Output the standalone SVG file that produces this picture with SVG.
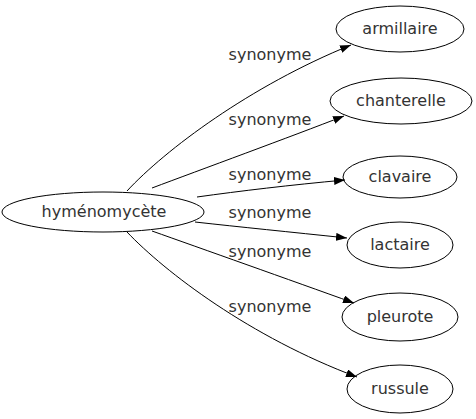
<svg xmlns="http://www.w3.org/2000/svg" width="476" height="419" viewBox="0 0 476 419">
<style>
  .node ellipse { fill: none; stroke: #000; stroke-width: 1; }
  text { font-family: "DejaVu Sans", "Liberation Sans", sans-serif; font-size: 16px; fill: #333; text-anchor: middle; }
  .edge { fill: none; stroke: #000; stroke-width: 1; marker-end: url(#arr); }
</style>
<defs>
  <marker id="arr" markerUnits="userSpaceOnUse" markerWidth="13" markerHeight="9" refX="11" refY="4" orient="auto">
    <path d="M0,0 L11,4 L0,8 z" fill="#000"/>
  </marker>
</defs>
<rect width="476" height="419" fill="#fff"/>
<g id="connectors">
  <path class="edge" d="M127,191 C165,150 250,86 351,45"/>
  <path class="edge" d="M152,188 C200,170 290,137 344,116"/>
  <path class="edge" d="M197,197 C240,191 290,185 345,180"/>
  <path class="edge" d="M195,222 C240,227 290,232 347,238"/>
  <path class="edge" d="M152,231 C200,248 290,280 354,303"/>
  <path class="edge" d="M127,232 C165,272 250,337 357,377"/>
  <text x="270" y="60">synonyme</text>
  <text x="270" y="125">synonyme</text>
  <text x="270" y="180">synonyme</text>
  <text x="270" y="218">synonyme</text>
  <text x="270" y="257">synonyme</text>
  <text x="270" y="312">synonyme</text>
</g>
<g id="hymenomycete" class="node">
  <ellipse cx="103" cy="212" rx="101" ry="20"/>
  <text x="104" y="217">hyménomycète</text>
</g>
<g id="armillaire" class="node">
  <ellipse cx="400" cy="29" rx="64" ry="23"/>
  <text x="400" y="34">armillaire</text>
</g>
<g id="chanterelle" class="node">
  <ellipse cx="401" cy="101" rx="71" ry="23"/>
  <text x="401" y="106">chanterelle</text>
</g>
<g id="clavaire" class="node">
  <ellipse cx="400" cy="177" rx="57" ry="21"/>
  <text x="400" y="182">clavaire</text>
</g>
<g id="lactaire" class="node">
  <ellipse cx="400" cy="245" rx="53" ry="23"/>
  <text x="400" y="250">lactaire</text>
</g>
<g id="pleurote" class="node">
  <ellipse cx="400" cy="317" rx="58" ry="24"/>
  <text x="400" y="322">pleurote</text>
</g>
<g id="russule" class="node">
  <ellipse cx="400" cy="389" rx="53" ry="24"/>
  <text x="400" y="394">russule</text>
</g>
</svg>
